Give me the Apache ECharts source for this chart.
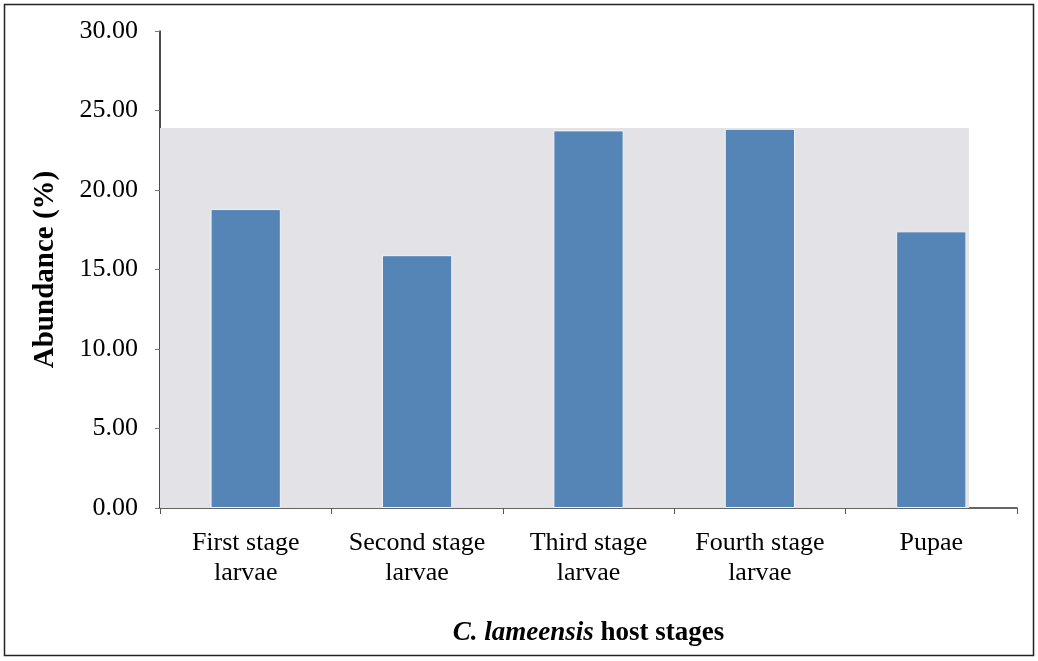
<!DOCTYPE html>
<html>
<head>
<meta charset="utf-8">
<script src="https://cdn.jsdelivr.net/npm/echarts@6/dist/echarts.min.js"></script>
<style>
  html, body { margin: 0; padding: 0; background: #fff; }
  #chart { width: 1038px; height: 661px; }
</style>
</head>
<body>
<div id="chart"></div>
<script>
// host stages on the x axis
var stages = ['First stage\nlarvae', 'Second stage\nlarvae', 'Third stage\nlarvae', 'Fourth stage\nlarvae', 'Pupae'];
// abundance (%)
var abundance = [18.8, 15.9, 23.75, 23.85, 17.4];
// grey panel behind the bars: ends at the tallest bar and the right edge of the last bar
var panelTop = 23.9;
var panelRight = 4.72;

var chart = echarts.init(document.getElementById('chart'));
var serif = '"Liberation Serif", "DejaVu Serif", serif';

var option = {
    backgroundColor: '#fff',
    animation: false,
    textStyle: { fontFamily: serif },
    grid: { left: 160, right: 21, top: 31, bottom: 153 },
    graphic: [{
        type: 'rect',
        shape: { x: 4.5, y: 4.5, width: 1029, height: 651 },
        style: { fill: 'none', stroke: '#222', lineWidth: 1.5 },
        z: 0
    }],
    xAxis: [{
        type: 'category',
        data: stages,
        axisLine: { lineStyle: { color: '#333', width: 1.5 } },
        axisTick: { show: true, length: 6, lineStyle: { color: '#555' } },
        axisLabel: { interval: 0, color: '#000', fontSize: 26, fontFamily: serif, margin: 20, lineHeight: 30 },
        name: '{i|C. lameensis} host stages',
        nameLocation: 'middle',
        nameGap: 112,
        nameTextStyle: {
            color: '#000', fontSize: 27, fontWeight: 'bold', fontFamily: serif,
            rich: { i: { fontStyle: 'italic', fontWeight: 'bold', fontSize: 27, fontFamily: serif, color: '#000' } }
        }
    }, {
        // helper axis so the grey panel can stop part way through the last category
        type: 'value', min: 0, max: 5, show: false
    }],
    yAxis: {
        type: 'value',
        min: 0,
        max: 30,
        interval: 5,
        splitLine: { show: false },
        axisLine: { show: true, lineStyle: { color: '#111', width: 1.5 } },
        axisTick: { show: true, length: 5, lineStyle: { color: '#777' } },
        axisLabel: {
            color: '#000', fontSize: 26, fontFamily: serif, margin: 22,
            formatter: function (v) { return v.toFixed(2); }
        },
        name: 'Abundance (%)',
        nameLocation: 'middle',
        nameGap: 100,
        nameRotate: 90,
        nameTextStyle: { color: '#000', fontSize: 29, fontWeight: 'bold', fontFamily: serif }
    },
    series: [{
        type: 'line',
        xAxisIndex: 1,
        data: [],
        silent: true,
        markArea: {
            silent: true,
            itemStyle: { color: '#e3e3e7' },
            data: [[{ xAxis: 0, yAxis: 0 }, { xAxis: panelRight, yAxis: panelTop }]]
        },
        z: 1
    }, {
        type: 'bar',
        data: abundance,
        barWidth: '41%',
        itemStyle: { color: '#5584b6', borderColor: '#f2f3f6', borderWidth: 1 },
        z: 3
    }]
};
chart.setOption(option);
</script>
</body>
</html>
